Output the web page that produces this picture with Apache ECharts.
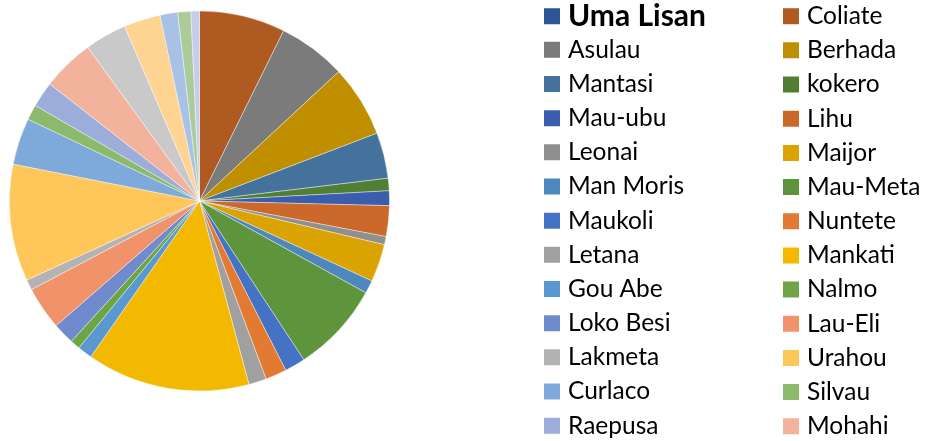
<!DOCTYPE html>
<html><head><meta charset="utf-8">
<script src="https://cdn.jsdelivr.net/npm/echarts@6/dist/echarts.min.js"></script>
<style>html,body{margin:0;padding:0;background:#fff}#c{width:926px;height:441px}</style>
</head><body><div id="c"></div>
<script>
const names = ["Uma Lisan","Coliate","Asulau","Berhada","Mantasi","kokero","Mau-ubu","Lihu","Leonai","Maijor","Man Moris","Mau-Meta","Maukoli","Nuntete","Letana","Mankati","Gou Abe","Nalmo","Loko Besi","Lau-Eli","Lakmeta","Urahou","Curlaco","Silvau","Raepusa","Mohahi","(27)","(28)","(29)","(30)","(31)"];
const values = [0,263,208,220,140,38,45,94,25,116,40,278,63,65,54,500,45,30,66,132,32,358,143,47,78,160,128,112,54,40,26];
const colors = ["#2F5597","#AE5A21","#7B7B7B","#BF8F00","#44729D","#507E32","#3A5DAE","#CC6829","#8F8F8F","#DBA301","#4D87BD","#5E953C","#4472C4","#E27A32","#A0A0A0","#F3B800","#5A98D2","#6EA544","#6F8ACD","#F0926A","#B3B3B3","#FFC659","#7DAADA","#8BBA6D","#9DADD9","#F2B29C","#C9C9C9","#FFD493","#A7C2E4","#ADCB9A","#C4CDEB"];
const legendHighlight = ["Uma Lisan"];
const legendLeft = ["Asulau","Mantasi","Mau-ubu","Leonai","Man Moris","Maukoli","Letana","Gou Abe","Loko Besi","Lakmeta","Curlaco","Raepusa"];
const legendRight = ["Coliate","Berhada","kokero","Lihu","Maijor","Mau-Meta","Nuntete","Mankati","Nalmo","Lau-Eli","Urahou","Silvau","Mohahi"];

const chart = echarts.init(document.getElementById('c'), null, {renderer:'canvas'});
const textStyle = { fontFamily: 'Lato', fontSize: 24.5, lineHeight: 25, color: '#000', padding: [0,0,0,2] };
const legendBase = {
  orient: 'vertical', height: 800, itemWidth: 18, itemHeight: 18, itemGap: 9.17,
  icon: 'rect', textStyle: textStyle, selectedMode: false, padding: 0
};
chart.setOption({
  animation: false,
  color: colors,
  legend: [
    Object.assign({}, legendBase, {left: 542, top: 1.2, data: legendHighlight,
      textStyle: { fontFamily: 'Lato', fontSize: 30, fontWeight: 'bold', color: '#000', padding: [0,0,0,2] }}),
    Object.assign({}, legendBase, {left: 542, top: 37.3, data: legendLeft}),
    Object.assign({}, legendBase, {left: 781, top: 3.7, data: legendRight})
  ],
  series: [{
    type: 'pie',
    center: [199.5, 201],
    radius: 190,
    startAngle: 90,
    clockwise: true,
    label: {show: false},
    labelLine: {show: false},
    emphasis: {disabled: true},
    itemStyle: {borderColor: '#ffffff', borderWidth: 0.4},
    data: names.map((n, i) => ({name: n, value: values[i]}))
  }]
});
</script>
</body></html>
